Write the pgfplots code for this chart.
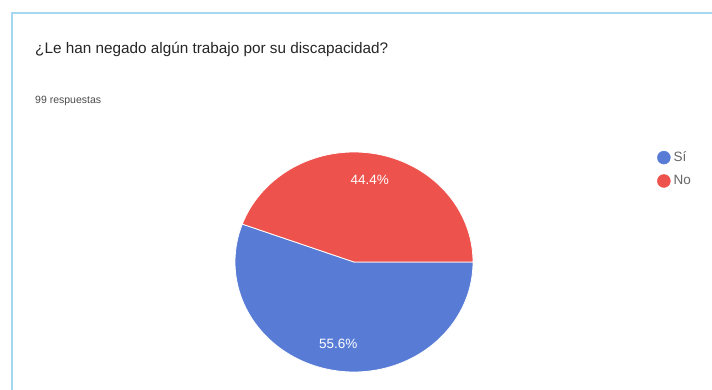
\documentclass[border=0pt]{standalone}
\usepackage{fontspec}
\setmainfont{Liberation Sans}
\usepackage{pgfplots}
\usepackage{pgfplotstable}
\pgfplotsset{compat=1.18}
\definecolor{gblue}{RGB}{88,124,214}
\definecolor{gred}{RGB}{238,82,76}
\definecolor{cardline}{RGB}{165,215,240}
\pgfplotstableread{
resp value
Si 55.6
No 44.4
}\datatable
\begin{document}%
\pgfplotstablegetelem{0}{value}\of\datatable\let\vsi\pgfplotsretval%
\pgfplotstablegetelem{1}{value}\of\datatable\let\vno\pgfplotsretval%
\pgfmathsetmacro{\asi}{-\vsi*3.6}%
\pgfmathsetmacro{\mblue}{\asi/2}%
\pgfmathsetmacro{\mred}{\vno*1.8}%
\begin{tikzpicture}[x=1pt,y=1pt]
\useasboundingbox (0,0) rectangle (712,389);
\fill[white] (0,0) rectangle (712,389);
\draw[cardline, line width=1.2pt] (12,-2) -- (12,376) -- (714,376);
\node[anchor=base west, inner sep=0pt, text=black!85, font=\fontsize{15.3}{18}\selectfont] at (35,335) {¿Le han negado algún trabajo por su discapacidad?};
\node[anchor=base west, inner sep=0pt, text=black!70, font=\fontsize{10.5}{12}\selectfont] at (35,285) {99 respuestas};
\begin{axis}[at={(235pt,17pt)}, anchor=south west, width=238pt, height=220pt, scale only axis,
  xmin=-1, xmax=1, ymin=-1, ymax=1, hide axis, clip=false,
  legend style={at={(1.773,1.006)}, anchor=north west, draw=none, fill=none,
    font=\fontsize{13.5}{15}\selectfont, text=black!60, row sep=10pt, inner sep=0pt,
    nodes={inner xsep=3pt, inner ysep=0pt}, cells={anchor=west}},
  legend cell align=left]
\addlegendimage{legend image code/.code={\fill[gblue] (-1pt,0pt) circle (6.5pt);}}
\addlegendimage{legend image code/.code={\fill[gred] (-1pt,0pt) circle (6.5pt);}}
\addplot[fill=gblue, draw=white, line width=0.8pt, domain=0:\asi, samples=160, forget plot] ({cos(x)},{sin(x)}) -- (axis cs:0,0) -- cycle;
\addplot[fill=gred, draw=white, line width=0.8pt, domain=0:\asi+360, samples=160, forget plot] ({cos(x)},{sin(x)}) -- (axis cs:0,0) -- cycle;
\node[text=white, font=\fontsize{13.5}{15}\selectfont] at (axis cs:{0.76*cos(\mred)},{0.76*sin(\mred)}) {\vno\%};
\node[text=white, font=\fontsize{13.5}{15}\selectfont] at (axis cs:{0.76*cos(\mblue)},{0.76*sin(\mblue)}) {\vsi\%};
\legend{Sí, No}
\end{axis}
\end{tikzpicture}%
\end{document}
